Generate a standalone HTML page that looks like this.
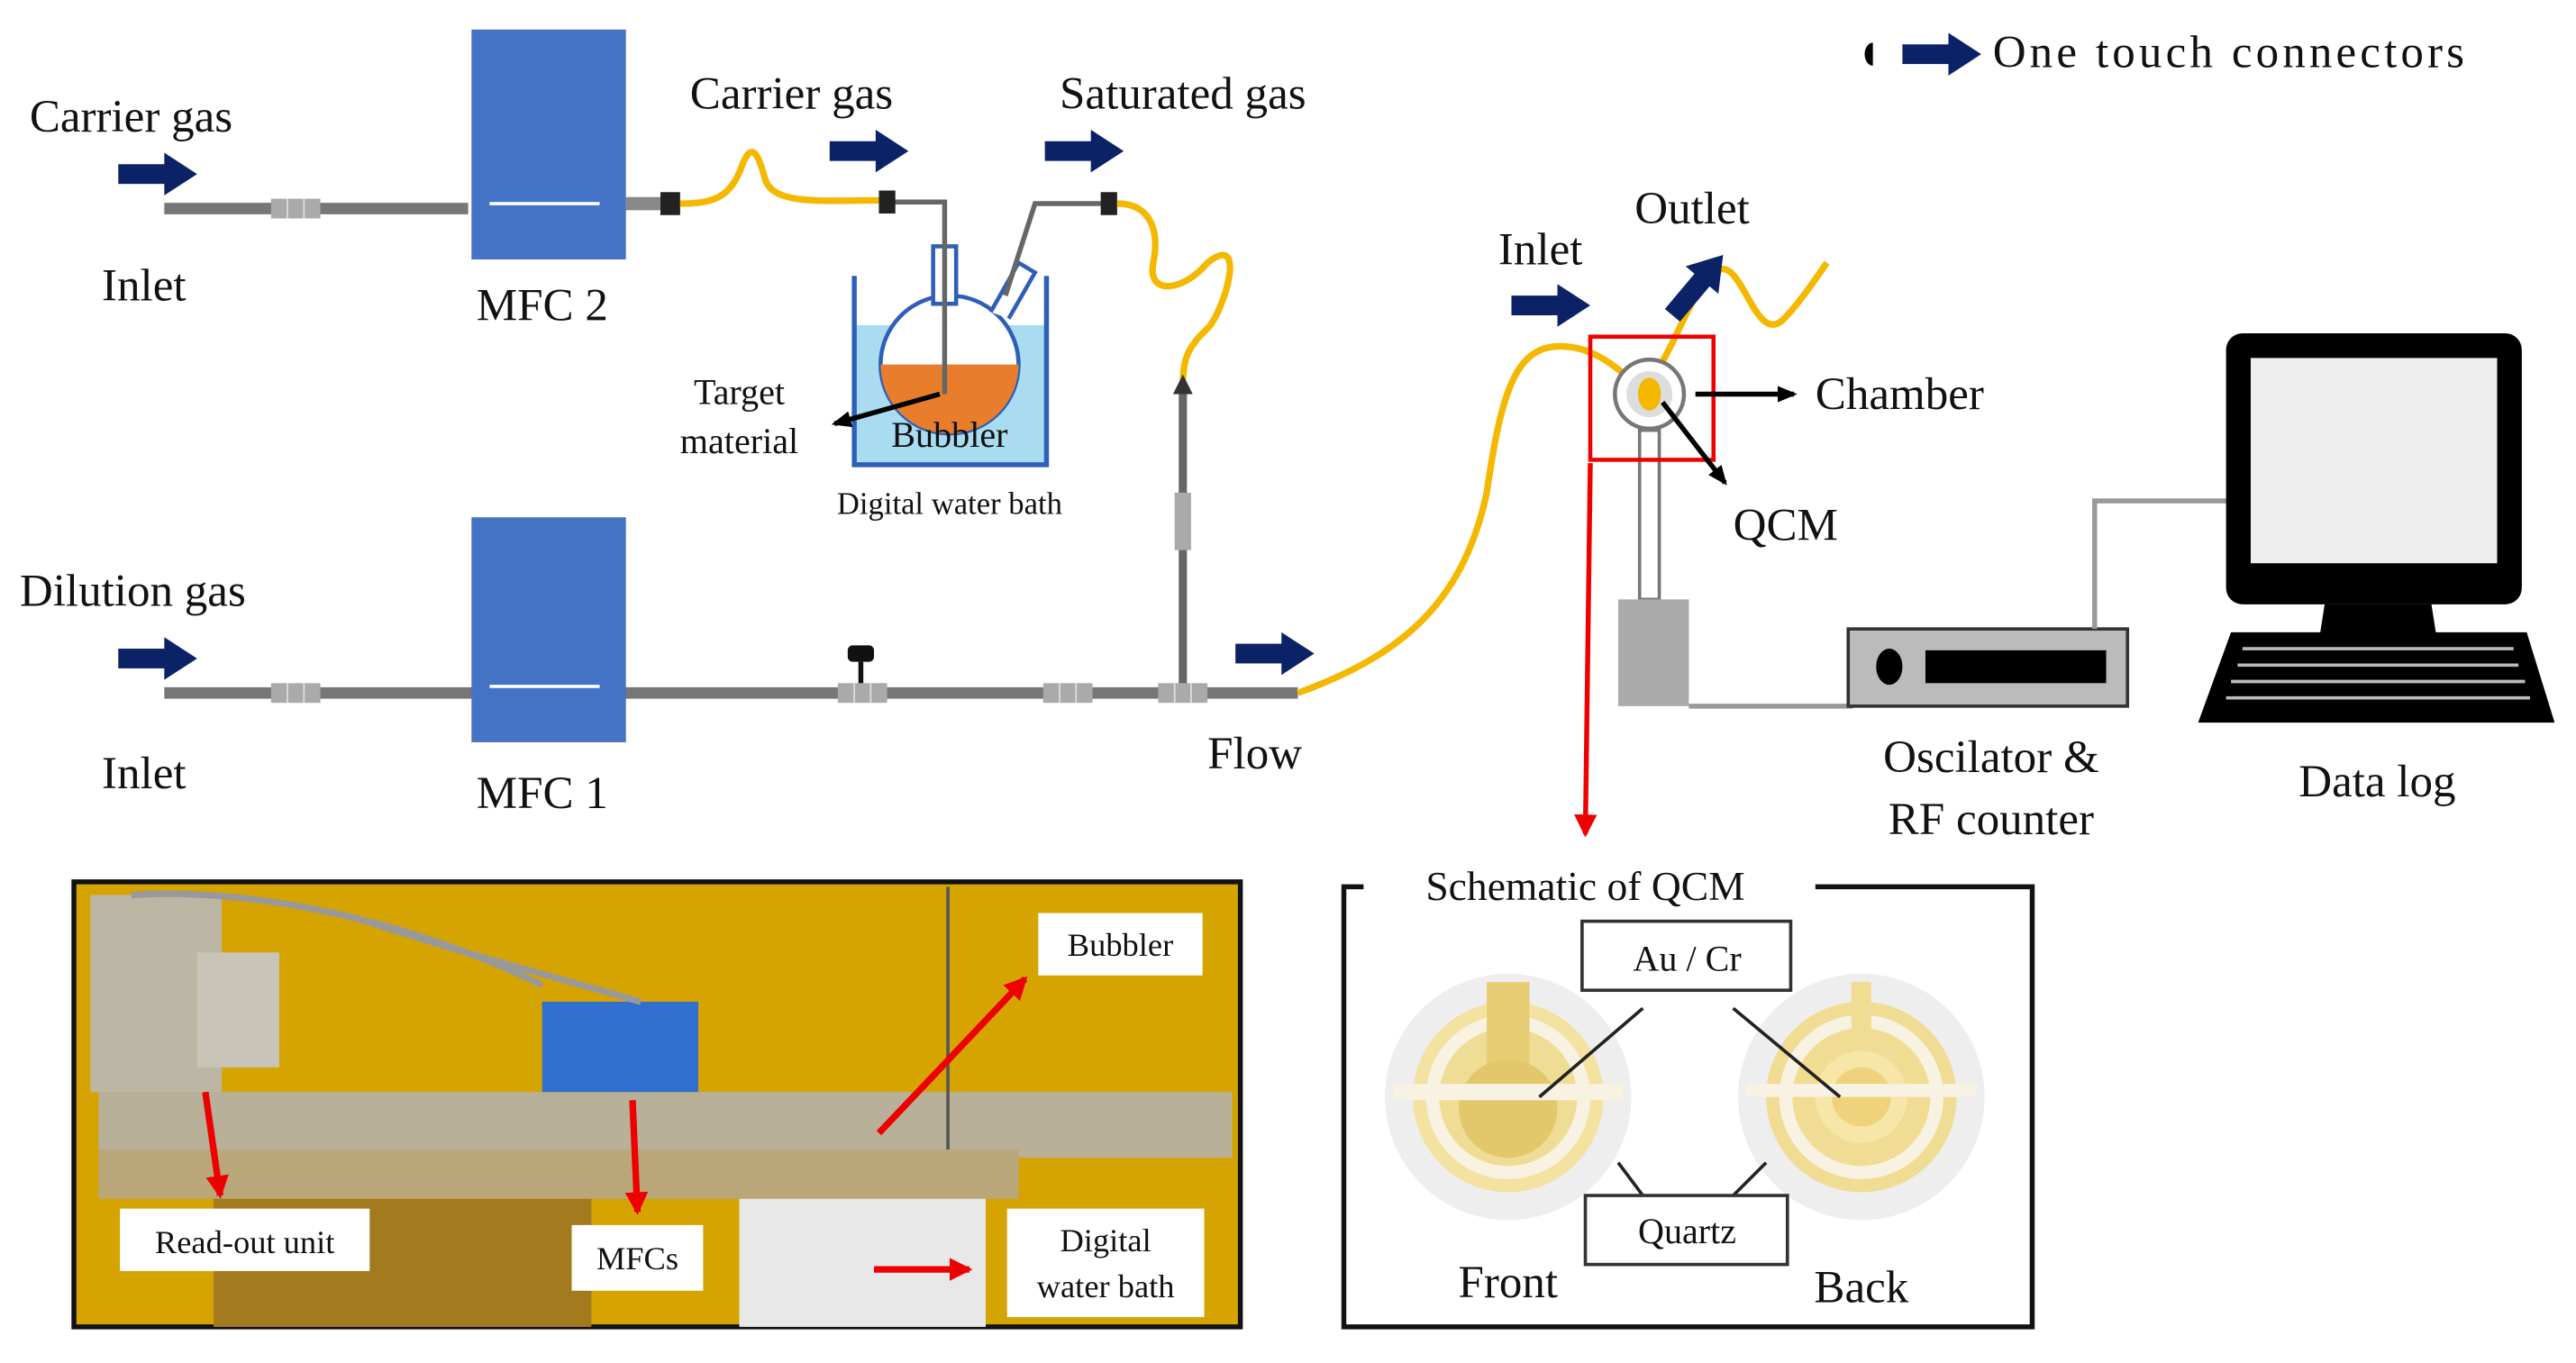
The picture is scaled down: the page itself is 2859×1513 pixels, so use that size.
<!DOCTYPE html>
<html><head><meta charset="utf-8"><style>html,body{margin:0;padding:0;background:#fff}svg{display:block}text{font-family:"Liberation Serif",serif;fill:#111}</style></head><body>
<svg width="2859" height="1513" viewBox="0 0 1568 830" preserveAspectRatio="none" xmlns="http://www.w3.org/2000/svg">
<defs>
<g id="ba"><rect x="0" y="-6" width="30" height="12" fill="#0b2366"/><polygon points="28,-13 48,0 28,13" fill="#0b2366"/></g>
<marker id="ak" markerUnits="userSpaceOnUse" markerWidth="12" markerHeight="12" refX="10" refY="6" orient="auto"><polygon points="0,1 12,6 0,11" fill="#000"/></marker>
<marker id="ar" markerUnits="userSpaceOnUse" markerWidth="14" markerHeight="14" refX="12" refY="7" orient="auto"><polygon points="0,0 14,7 0,14" fill="#e00"/></marker>
<marker id="ao" markerUnits="userSpaceOnUse" markerWidth="12" markerHeight="12" refX="10" refY="6" orient="auto"><polygon points="0,1 12,6 0,11" fill="#e00"/></marker>
<g id="cp"><rect x="0" y="-6" width="30" height="12" fill="#aaa"/><line x1="10" y1="-6" x2="10" y2="6" stroke="#ddd"/><line x1="20" y1="-6" x2="20" y2="6" stroke="#ddd"/></g>
</defs>
<!-- legend -->
<path d="M1140,26 a5,7 0 0 0 0,14z" fill="#000"/>
<use href="#ba" x="1158" y="33"/>
<text x="1213" y="41" font-size="28" textLength="287">One touch connectors</text>
<!-- top line -->
<text x="18" y="80" font-size="28">Carrier gas</text>
<use href="#ba" x="72" y="106"/>
<line x1="100" y1="127" x2="285" y2="127" stroke="#777" stroke-width="7"/>
<use href="#cp" x="165" y="127"/>
<text x="62" y="183" font-size="28">Inlet</text>
<rect x="287" y="18" width="94" height="140" fill="#4472c4"/>
<line x1="298" y1="124" x2="365" y2="124" stroke="#fff" stroke-width="2"/>
<text x="290" y="195" font-size="28">MFC 2</text>
<line x1="381" y1="124" x2="402" y2="124" stroke="#888" stroke-width="8"/>
<path d="M402,117 h12 v14 h-12z" fill="#222"/>
<path d="M414,124 C435,124 445,120 452,100 C458,85 462,95 466,110 C472,125 500,122 535,122" fill="none" stroke="#f5b800" stroke-width="4"/>
<text x="420" y="66" font-size="28">Carrier gas</text>
<use href="#ba" x="505" y="92"/>
<text x="645" y="66" font-size="28">Saturated gas</text>
<use href="#ba" x="636" y="92"/>
<!-- bubbler -->
<rect x="520" y="198" width="117" height="85" fill="#a9dcf0"/>
<polyline points="520,168 520,283 637,283 637,168" fill="none" stroke="#2e5fb8" stroke-width="3"/>
<circle cx="578" cy="222" r="42" fill="#fff" stroke="#2e5fb8" stroke-width="2.5"/>
<path d="M536,222 A42,42 0 0 0 620,222 Z" fill="#e87d2b"/>
<rect x="568" y="150" width="14" height="35" fill="#fff" stroke="#2e5fb8" stroke-width="2.5"/>
<path d="M603,190 L620,160 L630,166 L614,194" fill="#fff" stroke="#2e5fb8" stroke-width="2.5"/>
<polyline points="540,123 575,123 575,240" fill="none" stroke="#666" stroke-width="3"/>
<polyline points="672,124 630,124 612,180" fill="none" stroke="#666" stroke-width="3"/>
<path d="M535,116 h10 v14 h-10z" fill="#222"/>
<path d="M670,117 h10 v14 h-10z" fill="#222"/>
<line x1="572" y1="240" x2="508" y2="258" stroke="#000" stroke-width="3" marker-end="url(#ak)"/>
<text x="450" y="246" font-size="22" text-anchor="middle">Target</text>
<text x="450" y="276" font-size="22" text-anchor="middle">material</text>
<text x="578" y="272" font-size="22" text-anchor="middle" fill="#223">Bubbler</text>
<text x="578" y="313" font-size="19" text-anchor="middle">Digital water bath</text>
<path d="M680,124 C700,124 706,140 702,160 C698,180 720,178 735,160 C760,140 745,190 735,200 C722,212 720,220 720,235" fill="none" stroke="#f5b800" stroke-width="4"/>
<line x1="720" y1="240" x2="720" y2="420" stroke="#666" stroke-width="5"/>
<polygon points="714,240 720,228 726,240" fill="#333"/>
<rect x="715" y="300" width="10" height="35" fill="#aaa"/>
<!-- bottom line -->
<text x="12" y="369" font-size="28">Dilution gas</text>
<use href="#ba" x="72" y="401"/>
<line x1="100" y1="422" x2="790" y2="422" stroke="#777" stroke-width="7"/>
<use href="#cp" x="165" y="422"/>
<use href="#cp" x="510" y="422"/>
<use href="#cp" x="635" y="422"/>
<use href="#cp" x="705" y="422"/>
<rect x="516" y="393" width="16" height="10" rx="3" fill="#111"/><line x1="524" y1="403" x2="524" y2="416" stroke="#111" stroke-width="3"/>
<text x="62" y="480" font-size="28">Inlet</text>
<rect x="287" y="315" width="94" height="137" fill="#4472c4"/>
<line x1="298" y1="418" x2="365" y2="418" stroke="#fff" stroke-width="2"/>
<text x="290" y="492" font-size="28">MFC 1</text>
<use href="#ba" x="752" y="398"/>
<text x="735" y="468" font-size="28">Flow</text>
<path d="M790,422 C850,400 890,370 905,300 C915,230 925,205 960,212 C985,218 995,240 1005,232 C1025,200 1030,175 1045,165 C1060,155 1068,210 1085,195 C1095,185 1105,170 1112,160" fill="none" stroke="#f5b800" stroke-width="4"/>
<!-- chamber -->
<text x="912" y="161" font-size="28">Inlet</text>
<use href="#ba" x="920" y="186"/>
<text x="995" y="136" font-size="28">Outlet</text>
<g transform="translate(1018,192) rotate(-50)"><use href="#ba"/></g>
<rect x="998" y="262" width="12" height="103" fill="#fff" stroke="#777" stroke-width="2"/>
<circle cx="1004" cy="240" r="21" fill="#fff" stroke="#777" stroke-width="2.5"/>
<circle cx="1004" cy="240" r="14" fill="#ddd"/>
<ellipse cx="1004" cy="240" rx="7" ry="10" fill="#f5b800"/>
<rect x="968" y="205" width="75" height="75" fill="none" stroke="#e00" stroke-width="2.5"/>
<line x1="1032" y1="240" x2="1092" y2="240" stroke="#000" stroke-width="3" marker-end="url(#ak)"/>
<text x="1105" y="249" font-size="28">Chamber</text>
<line x1="1012" y1="245" x2="1050" y2="294" stroke="#000" stroke-width="3" marker-end="url(#ak)"/>
<text x="1055" y="329" font-size="28">QCM</text>
<rect x="985" y="365" width="43" height="65" fill="#aaa"/>
<line x1="1028" y1="430" x2="1128" y2="430" stroke="#999" stroke-width="3"/>
<line x1="968" y1="282" x2="965" y2="508" stroke="#e00" stroke-width="3" marker-end="url(#ar)"/>
<!-- oscillator -->
<rect x="1125" y="383" width="170" height="47" fill="#bbb" stroke="#333" stroke-width="2"/>
<ellipse cx="1150" cy="406" rx="8" ry="11" fill="#000"/>
<rect x="1172" y="396" width="110" height="20" fill="#000"/>
<polyline points="1275,383 1275,305 1358,305" fill="none" stroke="#999" stroke-width="3"/>
<text x="1212" y="470" font-size="28" text-anchor="middle">Oscilator &amp;</text>
<text x="1212" y="508" font-size="28" text-anchor="middle">RF counter</text>
<!-- computer -->
<rect x="1355" y="203" width="180" height="165" rx="10" fill="#000"/>
<rect x="1370" y="218" width="150" height="125" fill="#eee"/>
<polygon points="1415,368 1480,368 1485,400 1410,400" fill="#000"/>
<polygon points="1358,385 1538,385 1555,440 1338,440" fill="#000"/>
<g stroke="#bbb" stroke-width="2"><line x1="1365" y1="395" x2="1530" y2="395"/><line x1="1362" y1="405" x2="1533" y2="405"/><line x1="1358" y1="415" x2="1537" y2="415"/><line x1="1355" y1="425" x2="1540" y2="425"/></g>
<text x="1447" y="485" font-size="28" text-anchor="middle">Data log</text>
<!-- photo -->
<rect x="45" y="537" width="710" height="271" fill="#d6a400" stroke="#111" stroke-width="3"/>
<rect x="55" y="545" width="80" height="120" fill="#bcb7a5"/>
<rect x="120" y="580" width="50" height="70" fill="#c8c4b8"/>
<rect x="60" y="665" width="690" height="40" fill="#b8b098"/>
<rect x="60" y="700" width="560" height="30" fill="#b9a77a"/>
<rect x="130" y="730" width="230" height="78" fill="#a47a1e"/>
<rect x="450" y="730" width="150" height="78" fill="#e8e8e8"/>
<rect x="330" y="610" width="95" height="55" fill="#2f6fd0"/>
<path d="M80,545 C150,540 250,560 330,600 M220,560 C280,580 320,590 390,610" fill="none" stroke="#999" stroke-width="4"/>
<line x1="577" y1="540" x2="577" y2="700" stroke="#555" stroke-width="2"/>
<g stroke="#e00" stroke-width="4"><line x1="125" y1="665" x2="134" y2="728" marker-end="url(#ar)"/><line x1="385" y1="670" x2="388" y2="738" marker-end="url(#ar)"/><line x1="535" y1="690" x2="624" y2="596" marker-end="url(#ar)"/><line x1="532" y1="773" x2="590" y2="773" marker-end="url(#ar)"/></g>
<g font-size="20"><rect x="632" y="556" width="100" height="38" fill="#fff"/><text x="682" y="582" text-anchor="middle">Bubbler</text>
<rect x="73" y="736" width="152" height="38" fill="#fff"/><text x="149" y="763" text-anchor="middle">Read-out unit</text>
<rect x="348" y="746" width="80" height="40" fill="#fff"/><text x="388" y="773" text-anchor="middle">MFCs</text>
<rect x="613" y="736" width="120" height="66" fill="#fff"/><text x="673" y="762" text-anchor="middle">Digital</text><text x="673" y="790" text-anchor="middle">water bath</text></g>
<!-- QCM schematic -->
<polyline points="830,540 818,540 818,808 1237,808 1237,540 1105,540" fill="none" stroke="#111" stroke-width="3"/>
<text x="965" y="548" font-size="25" text-anchor="middle">Schematic of QCM</text>
<circle cx="918" cy="668" r="75" fill="#eeeeee"/>
<circle cx="918" cy="668" r="58" fill="#f3e2a0"/>
<circle cx="918" cy="668" r="50" fill="#f7f2e2"/>
<circle cx="918" cy="668" r="42" fill="#efdc95"/>
<rect x="905" y="598" width="26" height="60" fill="#e6cc73"/>
<circle cx="918" cy="675" r="30" fill="#e2c86a"/>
<rect x="848" y="660" width="140" height="10" fill="#f7f2e2"/>
<circle cx="1133" cy="668" r="75" fill="#eeeeee"/>
<circle cx="1133" cy="668" r="58" fill="#f1dc94"/>
<circle cx="1133" cy="668" r="50" fill="#f7f2e2"/>
<circle cx="1133" cy="668" r="42" fill="#f1dc94"/>
<circle cx="1133" cy="668" r="28" fill="#f6e6a8"/>
<circle cx="1133" cy="668" r="18" fill="#efd27c"/>
<rect x="1127" y="598" width="12" height="30" fill="#f1dc94"/>
<rect x="1063" y="660" width="140" height="8" fill="#f7f2e2"/>
<g stroke="#222" stroke-width="2"><line x1="1000" y1="614" x2="937" y2="668"/><line x1="1055" y1="614" x2="1120" y2="668"/><line x1="985" y1="708" x2="1000" y2="728"/><line x1="1075" y1="708" x2="1055" y2="728"/></g>
<rect x="963" y="561" width="127" height="42" fill="#fff" stroke="#333" stroke-width="2"/>
<text x="1027" y="591" font-size="22" text-anchor="middle">Au / Cr</text>
<rect x="965" y="728" width="123" height="42" fill="#fff" stroke="#333" stroke-width="2"/>
<text x="1027" y="757" font-size="22" text-anchor="middle">Quartz</text>
<text x="918" y="790" font-size="28" text-anchor="middle">Front</text>
<text x="1133" y="793" font-size="28" text-anchor="middle">Back</text>
</svg>
</body></html>
